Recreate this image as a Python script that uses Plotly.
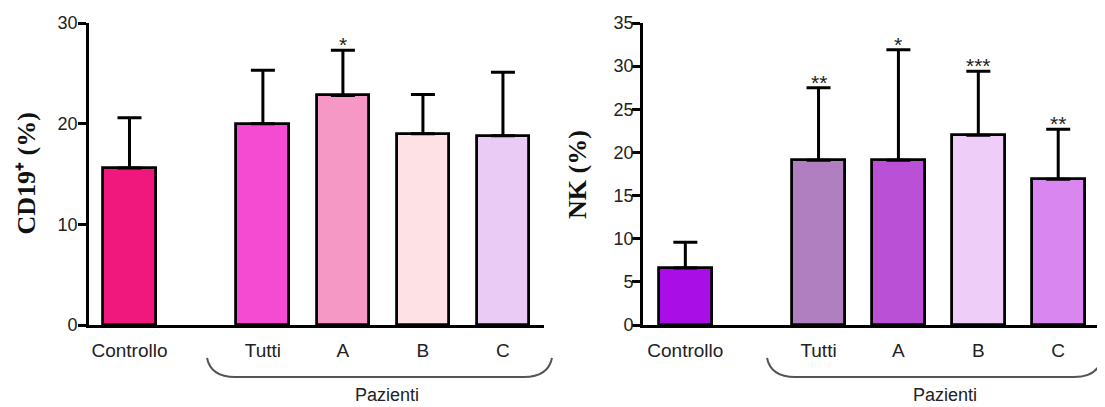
import plotly.graph_objects as go

# ---------------- data ----------------
categories = ["Controllo", "Tutti", "A", "B", "C"]
positions = [0, 1.667, 2.667, 3.667, 4.667]

cd19_mean = [15.6, 20.0, 22.8, 19.0, 18.8]
cd19_sd = [5.0, 5.3, 4.5, 3.9, 6.3]
cd19_stars = ["", "", "*", "", ""]
cd19_colors = ["#F0187C", "#F54BD3", "#F598C6", "#FDE1E5", "#EACBF6"]

nk_mean = [6.6, 19.1, 19.1, 22.0, 16.9]
nk_sd = [3.0, 8.4, 12.8, 7.4, 5.8]
nk_stars = ["", "**", "*", "***", "**"]
nk_colors = ["#A90EE6", "#B07FC0", "#BA50D6", "#EECDF8", "#DA86F0"]

# page body has an 8px margin: work in window pixels and convert
OFF = 8
W, H = 1097, 399
def px(x):
    return (x - OFF) / W
def py(y):
    return 1 - (y - OFF) / H

tick_font = dict(family="Liberation Sans, Arial, sans-serif", size=18, color="#222")
cat_font = dict(family="Liberation Sans, Arial, sans-serif", size=19, color="#222")
group_font = dict(family="Liberation Sans, Arial, sans-serif", size=18, color="#222")
title_font = dict(family="Liberation Serif, Times New Roman, serif", size=26, color="#111")
star_font = dict(family="Liberation Sans, Arial, sans-serif", size=21, color="#222")

fig = go.Figure()

def add_bars(xa, ya, means, sds, colors):
    fig.add_trace(go.Bar(
        x=positions, y=means, width=0.66,
        marker=dict(color=colors, line=dict(color="black", width=2.8)),
        error_y=dict(type="data", symmetric=False, array=sds,
                     arrayminus=[0] * len(sds), color="black",
                     thickness=3, width=12),
        xaxis=xa, yaxis=ya, showlegend=False, hoverinfo="skip",
    ))

add_bars("x", "y", cd19_mean, cd19_sd, cd19_colors)
add_bars("x2", "y2", nk_mean, nk_sd, nk_colors)

annotations = []
for xr, yr, means, sds, stars in [("x", "y", cd19_mean, cd19_sd, cd19_stars),
                                  ("x2", "y2", nk_mean, nk_sd, nk_stars)]:
    for p, m, s, st in zip(positions, means, sds, stars):
        if st:
            annotations.append(dict(x=p, y=m + s, xref=xr, yref=yr, text=st,
                                    showarrow=False, xanchor="center", yanchor="bottom",
                                    yshift=-8, font=star_font))

# axis titles
annotations.append(dict(x=px(9), y=py(174), xref="paper", yref="paper",
                        text="<b>CD19\u207a (%)</b>", textangle=-90,
                        xanchor="left", yanchor="middle",
                        showarrow=False, font=title_font))
annotations.append(dict(x=px(577), y=py(174), xref="paper", yref="paper",
                        text="<b>NK (%)</b>", textangle=-90,
                        xanchor="center", yanchor="middle",
                        showarrow=False, font=title_font))
# group labels
annotations.append(dict(x=px(387), y=py(395), xref="paper", yref="paper",
                        text="Pazienti", showarrow=False, font=group_font,
                        xanchor="center", yanchor="middle"))
annotations.append(dict(x=px(945), y=py(395), xref="paper", yref="paper",
                        text="Pazienti", showarrow=False, font=group_font,
                        xanchor="center", yanchor="middle"))

def brace(x0, x1, ytop, ybot, r):
    return (f"M {px(x0)} {py(ytop)} Q {px(x0 + 4)} {py(ybot)} {px(x0 + r)} {py(ybot)} "
            f"L {px(x1 - r)} {py(ybot)} Q {px(x1 - 4)} {py(ybot)} {px(x1)} {py(ytop)}")

shapes = [
    dict(type="path", xref="paper", yref="paper", path=brace(207, 552, 358, 377, 28),
         line=dict(color="#555", width=2)),
    dict(type="path", xref="paper", yref="paper", path=brace(767, 1102, 358, 377, 28),
         line=dict(color="#555", width=2)),
]

xaxis_common = dict(
    tickvals=positions, ticktext=categories, showline=True, linecolor="black",
    linewidth=2.8, ticks="", showgrid=False, zeroline=False, tickfont=cat_font,
    ticklabelstandoff=6, fixedrange=True, automargin=False,
)
yaxis_common = dict(
    showline=True, linecolor="black", linewidth=2.8, ticks="outside",
    ticklen=8, tickwidth=2.5, tickcolor="black", showgrid=False, zeroline=False,
    tickfont=tick_font, fixedrange=True, automargin=False,
)

fig.update_layout(
    template="none",
    width=W, height=H,
    margin=dict(l=0, r=0, t=0, b=0, autoexpand=False),
    paper_bgcolor="white", plot_bgcolor="white",
    xaxis=dict(domain=[px(89), px(544)], range=[-0.506, 5.18], anchor="y", **xaxis_common),
    yaxis=dict(domain=[py(325), py(23)], range=[0, 30], tickvals=[0, 10, 20, 30],
               anchor="x", ticklabelstandoff=-3, **yaxis_common),
    xaxis2=dict(domain=[px(643), px(1100)], range=[-0.53, 5.19], anchor="y2", **xaxis_common),
    yaxis2=dict(domain=[py(325), py(23)], range=[0, 35], tickvals=[0, 5, 10, 15, 20, 25, 30, 35],
                anchor="x2", ticklabelstandoff=-5, **yaxis_common),
    annotations=annotations,
    shapes=shapes,
    bargap=0,
)

fig.write_html("out.html")
